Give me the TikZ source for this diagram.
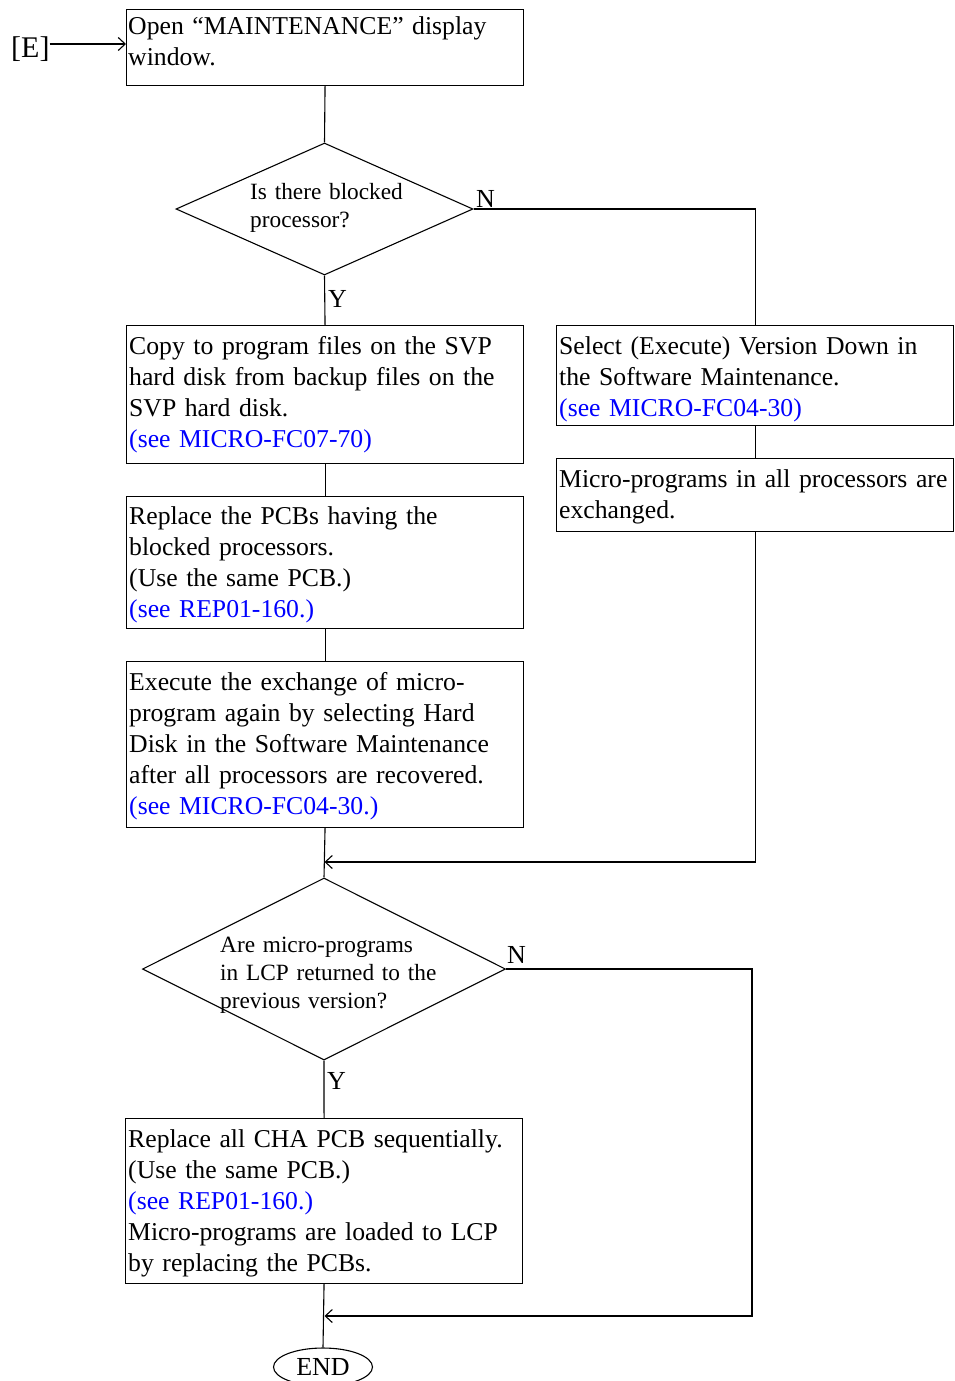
\documentclass[tikz,border=0pt]{standalone}
\usepackage{fontspec}
\setmainfont{Liberation Serif}
\usetikzlibrary{arrows.meta,shapes.geometric}
\definecolor{refblue}{RGB}{0,0,255}
\tikzset{
 box/.style={draw, line width=1.1pt, rectangle, anchor=north west, inner sep=0pt},
 txt/.style={anchor=base west, inner sep=0pt, text width=430pt, align=left, font=\fontsize{25.7}{31}\selectfont},
 dtxt/.style={anchor=base west, inner sep=0pt, text width=300pt, align=left, font=\fontsize{23.3}{28}\selectfont},
 lbl/.style={anchor=base west, inner sep=0pt, font=\fontsize{26}{30}\selectfont},
 dia/.style={draw, diamond, line width=1.1pt, inner sep=0pt},
 conn/.style={line width=1.1pt},
 arr/.style={conn, -{Straight Barb[length=7pt,width=13pt]}},
 ref/.style={text=refblue}
}
\begin{document}
\begin{tikzpicture}[x=1pt,y=-1pt]
\useasboundingbox (0,0) rectangle (954,1381);
% boxes
\node[box, minimum width=397pt, minimum height=76pt] (b1) at (126,9) {};
\node[txt] (t1) at (128,35) {Open “MAINTENANCE” display\\window.};
\node[dia, minimum width=297pt, minimum height=132pt] (d1) at (324.5,209) {};
\node[dtxt] (td1) at (250,199) {Is there blocked\\processor?};
\node[lbl] (n1) at (476,207) {N};
\node[lbl] (y1) at (328,307) {Y};
\node[box, minimum width=397pt, minimum height=138pt] (b2) at (126,325) {};
\node[txt] (t2) at (129,354) {Copy to program files on the SVP\\hard disk from backup files on the\\SVP hard disk.\\\textcolor{refblue}{(see MICRO-FC07-70)}};
\node[box, minimum width=397pt, minimum height=132pt] (b3) at (126,496) {};
\node[txt] (t3) at (129,524) {Replace the PCBs having the\\blocked processors.\\(Use the same PCB.)\\\textcolor{refblue}{(see REP01-160.)}};
\node[box, minimum width=397pt, minimum height=166pt] (b4) at (126,661) {};
\node[txt] (t4) at (129,690) {Execute the exchange of micro-\\program again by selecting Hard\\Disk in the Software Maintenance\\after all processors are recovered.\\\textcolor{refblue}{(see MICRO-FC04-30.)}};
\node[box, minimum width=397pt, minimum height=100pt] (r1) at (556,325) {};
\node[txt] (tr1) at (559,354) {Select (Execute) Version Down in\\the Software Maintenance.\\\textcolor{refblue}{(see MICRO-FC04-30)}};
\node[box, minimum width=397pt, minimum height=73pt] (r2) at (556,458) {};
\node[txt] (tr2) at (559,487) {Micro-programs in all processors are\\exchanged.};
\node[dia, minimum width=363pt, minimum height=182pt] (d2) at (324,969) {};
\node[dtxt] (td2) at (220,952) {Are micro-programs\\in LCP returned to the\\previous version?};
\node[lbl] (n2) at (507,963) {N};
\node[lbl] (y2) at (327,1089) {Y};
\node[box, minimum width=397pt, minimum height=165pt] (b5) at (125,1118) {};
\node[txt] (t5) at (128,1147) {Replace all CHA PCB sequentially.\\(Use the same PCB.)\\\textcolor{refblue}{(see REP01-160.)}\\Micro-programs are loaded to LCP\\by replacing the PCBs.};
\node[draw, ellipse, line width=1.1pt, inner sep=0pt, minimum width=99pt, minimum height=38pt, font=\fontsize{26}{30}\selectfont] (end) at (323,1367) {END};
\node[anchor=base west, inner sep=0pt, font=\fontsize{30}{34}\selectfont] (e) at (11,58) {[E]};
% connectors
\coordinate (ea) at (126,44);
\draw[arr] (e.east |- ea) -- (ea);
\draw[conn] (b1.south) -- (d1.north);
\draw[conn] (d1.south) -- (b2.north);
\draw[conn] (d1.east) -| (r1.north);
\draw[conn] (b2.south) -- (b3.north);
\draw[conn] (b3.south) -- (b4.north);
\draw[conn] (b4.south) -- (d2.north);
\draw[conn] (r1.south) -- (r2.north);
\coordinate (m1) at (324.5,862);
\draw[arr] (r2.south) |- (m1);
\coordinate (rc) at (752,1316);
\coordinate (m2) at (324.5,1316);
\draw[arr] (d2.east) -| (rc) -- (m2);
\draw[conn] (d2.south) -- (b5.north);
\draw[conn] (b5.south) -- (end.north);
\end{tikzpicture}
\end{document}
